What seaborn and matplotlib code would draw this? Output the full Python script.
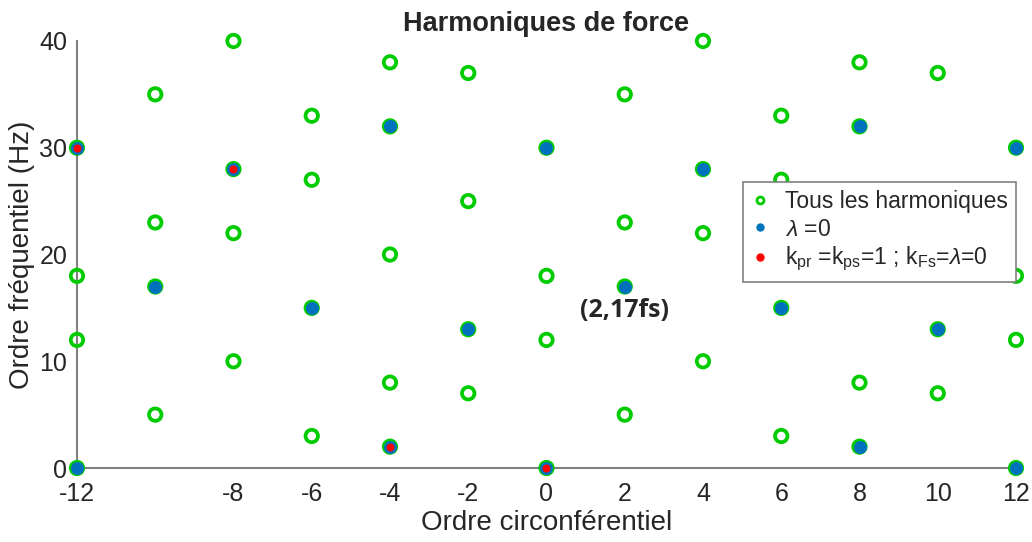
import numpy as np
import pandas as pd
import matplotlib
matplotlib.use("Agg")
import matplotlib.pyplot as plt
import seaborn as sns
from matplotlib.lines import Line2D

# ---- data ----
all_x = [-12, -12, -12, -12,
         -10, -10, -10, -10,
         -8, -8, -8, -8,
         -6, -6, -6, -6,
         -4, -4, -4, -4, -4,
         -2, -2, -2, -2,
         0, 0, 0, 0,
         2, 2, 2, 2,
         4, 4, 4, 4,
         6, 6, 6, 6,
         8, 8, 8, 8, 8,
         10, 10, 10, 10,
         12, 12, 12, 12]
all_y = [0, 12, 18, 30,
         5, 17, 23, 35,
         10, 22, 28, 40,
         3, 15, 27, 33,
         2, 8, 20, 32, 38,
         7, 13, 25, 37,
         0, 12, 18, 30,
         5, 17, 23, 35,
         10, 22, 28, 40,
         3, 15, 27, 33,
         2, 8, 20, 32, 38,
         7, 13, 25, 37,
         0, 12, 18, 30]

lam0_x = [-12, -12, -10, -8, -6, -4, -4, -2, 0, 0, 2, 4, 6, 8, 8, 10, 12, 12]
lam0_y = [0, 30, 17, 28, 15, 2, 32, 13, 0, 30, 17, 28, 15, 2, 32, 13, 0, 30]

k1_x = [-12, -8, -4, 0]
k1_y = [30, 28, 2, 0]

x_ticks = [-12, -8, -6, -4, -2, 0, 2, 4, 6, 8, 10, 12]
y_ticks = [0, 10, 20, 30, 40]

labels = ["Tous les harmoniques",
          r"$\lambda$ =0",
          r"k$_{\mathrm{pr}}$ =k$_{\mathrm{ps}}$=1 ; k$_{\mathrm{Fs}}$=$\lambda$=0"]

GREEN = "#00CC00"
BLUE = "#0072BD"
RED = "#FF0000"

df_all = pd.DataFrame({"x": all_x, "y": all_y})
df_lam = pd.DataFrame({"x": lam0_x, "y": lam0_y})
df_k = pd.DataFrame({"x": k1_x, "y": k1_y})

sns.set_style("white")
plt.rcParams["font.family"] = ["Liberation Sans", "DejaVu Sans"]
plt.rcParams["axes.unicode_minus"] = False
plt.rcParams["mathtext.fontset"] = "custom"
plt.rcParams["mathtext.rm"] = "Liberation Sans"
plt.rcParams["mathtext.it"] = "Liberation Sans:italic"

fig = plt.figure(figsize=(10.32, 5.42), dpi=100)
ax = fig.add_axes([0.0746, 0.1365, 0.9099, 0.7879])

sns.scatterplot(data=df_all, x="x", y="y", ax=ax, marker="o", s=80,
                facecolor="none", edgecolor=GREEN, linewidth=2.7,
                clip_on=False, zorder=3, legend=False)
sns.scatterplot(data=df_lam, x="x", y="y", ax=ax, marker="o", s=88,
                color=BLUE, edgecolor=BLUE, linewidth=0,
                clip_on=False, zorder=4, legend=False)
sns.scatterplot(data=df_k, x="x", y="y", ax=ax, marker="o", s=33,
                color=RED, edgecolor=RED, linewidth=0,
                clip_on=False, zorder=5, legend=False)

ax.set_xlim(-12, 12)
ax.set_ylim(0, 40)
ax.set_xticks(x_ticks)
ax.set_yticks(y_ticks)
ax.tick_params(direction="in", length=7, width=1.2, colors="#808080",
               labelcolor="#262626", labelsize=18)
ax.tick_params(axis="x", pad=10)
ax.tick_params(axis="y", pad=7)
for side in ["top", "right"]:
    ax.spines[side].set_visible(False)
for side in ["left", "bottom"]:
    ax.spines[side].set_color("#808080")
    ax.spines[side].set_linewidth(1.5)

ax.set_xlabel("Ordre circonférentiel", fontsize=20, color="#262626", labelpad=3)
ax.set_ylabel("Ordre fréquentiel (Hz)", fontsize=20, color="#262626", labelpad=3)
ax.set_title("Harmoniques de force", fontsize=19.5, fontweight="bold", pad=7)

ax.text(2, 14.8, "(2,17fs)", fontsize=18, fontweight="bold",
        ha="center", va="center", family=["Open Sans", "DejaVu Sans"], zorder=6)

handles = [
    Line2D([], [], ls="none", marker="o", ms=5, mfc="none", mec=GREEN, mew=2),
    Line2D([], [], ls="none", marker="o", ms=5, mfc=BLUE, mec=BLUE),
    Line2D([], [], ls="none", marker="o", ms=5, mfc=RED, mec=RED),
]
leg = ax.legend(handles, labels, loc="upper right", bbox_to_anchor=(1.0, 0.67),
                fontsize=16.5, frameon=True, fancybox=False, framealpha=1,
                edgecolor="#808080", handlelength=0.8, handletextpad=0.7,
                borderpad=0.35, labelspacing=0.2, borderaxespad=0)
leg.get_frame().set_linewidth(1.2)
leg.set_zorder(10)

fig.savefig("out.png", dpi=100)
